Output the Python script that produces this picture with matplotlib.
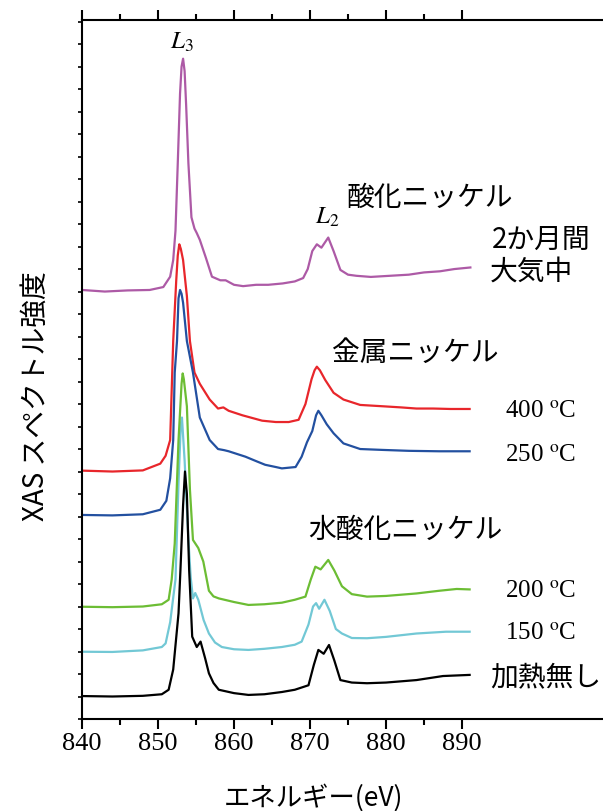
import matplotlib
matplotlib.use("Agg")
import matplotlib.pyplot as plt
from matplotlib.ticker import MultipleLocator

plt.rcParams['mathtext.fontset'] = 'stix'
jp = ['Noto Sans CJK JP', 'DejaVu Sans']
serif = 'Liberation Serif'

ox_x = [840, 843, 846, 848.9, 850.7, 851.6, 852.0, 852.3, 852.6, 852.9, 853.1, 853.3, 853.5, 853.7,
        854.0, 854.4, 854.8, 855.1, 855.5, 856.3, 857.1, 858.2, 858.9, 860, 861.2, 862.9, 864.5,
        866.4, 868, 869.1, 869.7, 870.3, 870.9, 871.5, 872.0, 872.4, 873.1, 874, 875, 876.1, 878,
        880.5, 883, 885, 887.1, 889, 891.1]
ox_y = [19.07, 19.0, 19.05, 19.07, 19.2, 19.66, 20.4, 21.7, 24.7, 27.8, 29.0, 29.35, 28.8, 27.3,
        24.7, 22.3, 21.8, 21.6, 21.3, 20.5, 19.66, 19.5, 19.5, 19.3, 19.24, 19.3, 19.3,
        19.36, 19.45, 19.6, 20.0, 20.8, 21.1, 20.95, 21.2, 21.4, 20.8, 19.96, 19.75, 19.7, 19.65,
        19.7, 19.75, 19.85, 19.9, 20.0, 20.07]

t400_x = [840, 844, 848, 850.3, 851.0, 851.6, 852.0, 852.4, 852.6, 852.8, 853.0, 853.3, 853.8,
          854.2, 854.8, 855.5, 856.8, 857.9, 858.6, 859.3, 861.1, 863.7, 865.5, 867.2, 868.5,
          869.4, 870.2, 870.6, 870.9, 871.3, 872.0, 873.1, 874.4, 876.6, 879.6, 882, 884, 886.2,
          888.5, 891]
t400_y = [11.04, 11.0, 11.05, 11.35, 11.7, 12.4, 16.8, 19.5, 20.6, 21.1, 20.9, 20.4, 18.8,
          16.8, 15.4, 14.9, 14.2, 13.8, 13.85, 13.7, 13.5, 13.26, 13.2, 13.2, 13.3,
          14.0, 15.1, 15.5, 15.66, 15.5, 15.07, 14.5, 14.2, 13.96, 13.9, 13.85, 13.8, 13.8,
          13.78, 13.78]

t250_x = [840, 844, 848, 850.3, 851.1, 851.6, 852.0, 852.2, 852.5, 852.7, 852.9, 853.1, 853.3,
          853.8, 854.6, 855.5, 856.8, 857.9, 858.7, 859.3, 861.5, 863, 864.1, 865.5, 866.3,
          868.1, 868.9, 869.6, 870.3, 870.8, 871.1, 871.5, 872.2, 873.1, 874.4, 876.6, 879.6,
          883, 887, 891]
t250_y = [9.07, 9.05, 9.1, 9.3, 9.7, 10.7, 12.4, 15.4, 16.8, 18.7, 19.07, 18.9, 18.5,
          16.8, 15.4, 13.4, 12.4, 12.0, 11.95, 11.9, 11.66, 11.45, 11.3, 11.2, 11.14,
          11.2, 11.66, 12.3, 12.8, 13.5, 13.7, 13.5, 13.1, 12.7, 12.25, 12.0, 11.96,
          11.92, 11.9, 11.9]

t200_x = [840, 844, 848, 850.5, 851.4, 851.8, 852.2, 852.7, 853.1, 853.25, 853.4, 853.8, 854.2,
          854.6, 855.3, 855.96, 856.7, 857.3, 858, 860, 861.9, 864, 866.3, 868, 869.4, 870.1,
          870.7, 871.4, 872.4, 873.2, 874.2, 875.5, 877.5, 880, 884, 887, 889.3, 891]
t200_y = [4.99, 4.97, 5.0, 5.1, 5.3, 6.2, 7.8, 12.4, 14.9, 15.36, 15.1, 13.9, 10.2,
          7.96, 7.6, 7.0, 5.7, 5.45, 5.36, 5.2, 5.07, 5.1, 5.17, 5.3, 5.44, 6.2,
          6.77, 6.65, 7.07, 6.6, 5.9, 5.55, 5.44, 5.47, 5.58, 5.7, 5.78, 5.76]

t150_x = [840, 844, 848, 850.5, 851.0, 851.6, 852.3, 852.7, 853.0, 853.15, 853.5, 854.0, 854.3,
          854.6, 854.9, 855.3, 856.0, 856.7, 857.5, 858.4, 860, 861.9, 864, 866.3, 868, 868.9,
          869.8, 870.4, 870.8, 871.2, 871.9, 872.6, 873.4, 874.2, 875.5, 877.5, 880, 884, 887.9,
          891]
t150_y = [2.99, 2.98, 3.05, 3.2, 3.36, 4.3, 6.2, 10.5, 13.1, 13.4, 11.5, 7.96, 6.3,
          5.36, 5.6, 5.3, 4.4, 3.8, 3.4, 3.2, 3.1, 3.07, 3.12, 3.2, 3.3, 3.44,
          4.2, 5.0, 5.15, 4.9, 5.3, 4.8, 4.0, 3.8, 3.6, 3.59, 3.65, 3.8, 3.88,
          3.88]

raw_x = [840, 844, 848, 850.5, 851.4, 852.0, 852.7, 852.95, 853.3, 853.55, 853.8, 854.1, 854.5,
         855.1, 855.6, 856.2, 856.7, 857.3, 858, 860, 861.9, 864, 866.3, 868, 869.8, 870.5,
         871.1, 871.8, 872.5, 873.2, 874, 875.5, 877.5, 880, 884, 887.5, 891]
raw_y = [1.02, 1.0, 1.03, 1.1, 1.3, 2.2, 4.7, 6.6, 9.5, 11.0, 10.0, 6.6, 3.66,
         3.2, 3.44, 2.7, 2.03, 1.6, 1.3, 1.15, 1.07, 1.1, 1.2, 1.3, 1.5, 2.4,
         3.07, 2.9, 3.29, 2.6, 1.73, 1.62, 1.59, 1.62, 1.73, 1.91, 1.96]

series = [(ox_x, ox_y, '#ad5aa6'),
          (t400_x, t400_y, '#e8262b'),
          (t250_x, t250_y, '#2350a0'),
          (t150_x, t150_y, '#72c8d5'),
          (t200_x, t200_y, '#6cbd34'),
          (raw_x, raw_y, '#000000')]

temp_labels = ['400', '250', '200', '150']
temp_y = [13.38, 11.42, 5.38, 3.51]

fig = plt.figure(figsize=(6.03, 8.11), dpi=100)
ax = fig.add_axes([82 / 603, 92 / 811, 1 - 82 / 603, 699 / 811])

for x, y, c in series:
    ax.plot(x, y, color=c, linewidth=1.6, solid_joinstyle='round')

ax.set_xlim(840, 908.55)
ax.set_ylim(0, 31.07)

# axes styling
ax.spines['right'].set_visible(False)
for s in ['left', 'top', 'bottom']:
    ax.spines[s].set_linewidth(1.5)
ax.set_xticks([840, 850, 860, 870, 880, 890])
ax.set_xticks([845, 855, 865, 875, 885], minor=True)
ax.yaxis.set_major_locator(MultipleLocator(1))
ax.tick_params(axis='x', which='major', direction='out', length=7, width=1.5,
               top=True, labelsize=19, pad=3)
ax.tick_params(axis='x', which='minor', direction='out', length=4, width=1.5, top=True)
ax.tick_params(axis='y', which='major', direction='out', length=3, width=1.2,
               labelleft=False, right=False)
for lab in ax.get_xticklabels():
    lab.set_fontfamily(serif)

# peak labels
ax.text(853.1, 30.1, r'$L_{\mathrm{3}}$', fontsize=18, ha='center', va='center')
ax.text(872.2, 22.3, r'$L_{\mathrm{2}}$', fontsize=18, ha='center', va='center')

# sample labels
ax.text(885.8, 23.16, '酸化ニッケル', family=jp, fontsize=20, ha='center', va='center')
ax.text(893.9, 21.3, '2か月間', family=jp, fontsize=20, ha='left', va='center')
ax.text(893.6, 19.9, '大気中', family=jp, fontsize=20, ha='left', va='center')
ax.text(883.9, 16.27, '金属ニッケル', family=jp, fontsize=20, ha='center', va='center')
ax.text(882.5, 8.4, '水酸化ニッケル', family=jp, fontsize=20, ha='center', va='center')
ax.text(901.0, 1.82, '加熱無し', family=jp, fontsize=20, ha='center', va='center')
for t, ty in zip(temp_labels, temp_y):
    ax.text(900.4, ty, t + r' $^{\mathrm{o}}$C', family=serif, fontsize=18,
            ha='center', va='baseline')

fig.text(313 / 603, 1 - 798 / 811, 'エネルギー(eV)', family=jp, fontsize=19,
         ha='center', va='center')
fig.text(36 / 603, 1 - 396 / 811, 'XAS スペクトル強度', family=jp, fontsize=20,
         ha='center', va='center', rotation=90)

fig.savefig('out.png', dpi=100)
